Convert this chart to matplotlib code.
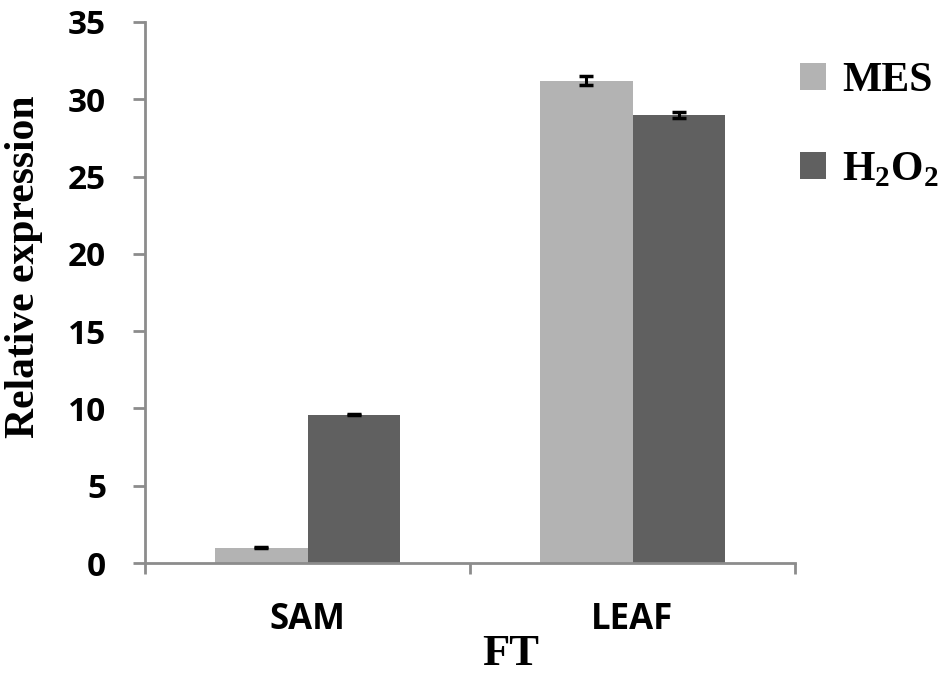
import matplotlib
matplotlib.use("Agg")
import matplotlib.pyplot as plt
from matplotlib.patches import Patch
import numpy as np

categories = ["SAM", "LEAF"]
series_names = ["MES", "H$_\\mathbf{2}$O$_\\mathbf{2}$"]
mes_values = [1.0, 31.2]
mes_errors = [0.06, 0.3]
h2o2_values = [9.6, 29.0]
h2o2_errors = [0.05, 0.2]
y_ticks = [0, 5, 10, 15, 20, 25, 30, 35]

plt.rcParams["mathtext.fontset"] = "custom"
plt.rcParams["mathtext.bf"] = "Liberation Serif:bold"
plt.rcParams["mathtext.rm"] = "Liberation Serif:bold"

SPINE = "#8c8c8c"
MES_COLOR = "#b3b3b3"
H2O2_COLOR = "#606060"

fig = plt.figure(figsize=(9.4, 6.73), dpi=100)
ax = fig.add_axes([145 / 940, 1 - 563 / 673, 650 / 940, 541 / 673])

x = np.arange(len(categories))
width = 0.285
err_kw = dict(ecolor="black", elinewidth=2.2, capsize=5, capthick=2.5)
ax.bar(x - width / 2, mes_values, width, yerr=mes_errors, color=MES_COLOR,
       error_kw=err_kw, zorder=2)
ax.bar(x + width / 2, h2o2_values, width, yerr=h2o2_errors, color=H2O2_COLOR,
       error_kw=err_kw, zorder=2)

ax.set_xlim(-0.5, len(categories) - 0.5)
ax.set_ylim(0, 35)
ax.set_yticks(y_ticks)
ax.set_yticklabels([str(t) for t in y_ticks], fontfamily="Open Sans",
                   fontweight="bold", fontsize=24)
ax.set_xticks(x)
ax.set_xticklabels(categories, fontfamily="Open Sans", fontweight="bold",
                   fontsize=25)
ax.set_xticks(np.arange(len(categories) + 1) - 0.5, minor=True)
ax.tick_params(axis="x", which="major", length=0, pad=28)
ax.tick_params(axis="x", which="minor", length=8, width=2, color=SPINE,
               direction="out")
ax.tick_params(axis="y", length=9, width=2, color=SPINE, direction="out",
               pad=19)

for side in ("top", "right"):
    ax.spines[side].set_visible(False)
for side in ("left", "bottom"):
    ax.spines[side].set_color(SPINE)
    ax.spines[side].set_linewidth(2)

ax.set_ylabel("Relative expression", fontfamily="Liberation Serif",
              fontweight="bold", fontsize=30)
ax.yaxis.set_label_coords(-0.157, 0.547)
fig.text(511 / 940, 1 - 665 / 673, "FT", fontfamily="Liberation Serif",
         fontweight="bold", fontsize=32, ha="center", va="baseline")

handles = [Patch(facecolor=MES_COLOR), Patch(facecolor=H2O2_COLOR)]
fig.legend(handles, series_names, loc="upper left",
           bbox_to_anchor=(800 / 940, 1 - 62 / 673), frameon=False,
           prop={"family": "Liberation Serif", "weight": "bold", "size": 30},
           handlelength=0.62, handleheight=0.62, handletextpad=0.4,
           labelspacing=1.2, borderaxespad=0, borderpad=0)

fig.savefig("out.png", dpi=100)
